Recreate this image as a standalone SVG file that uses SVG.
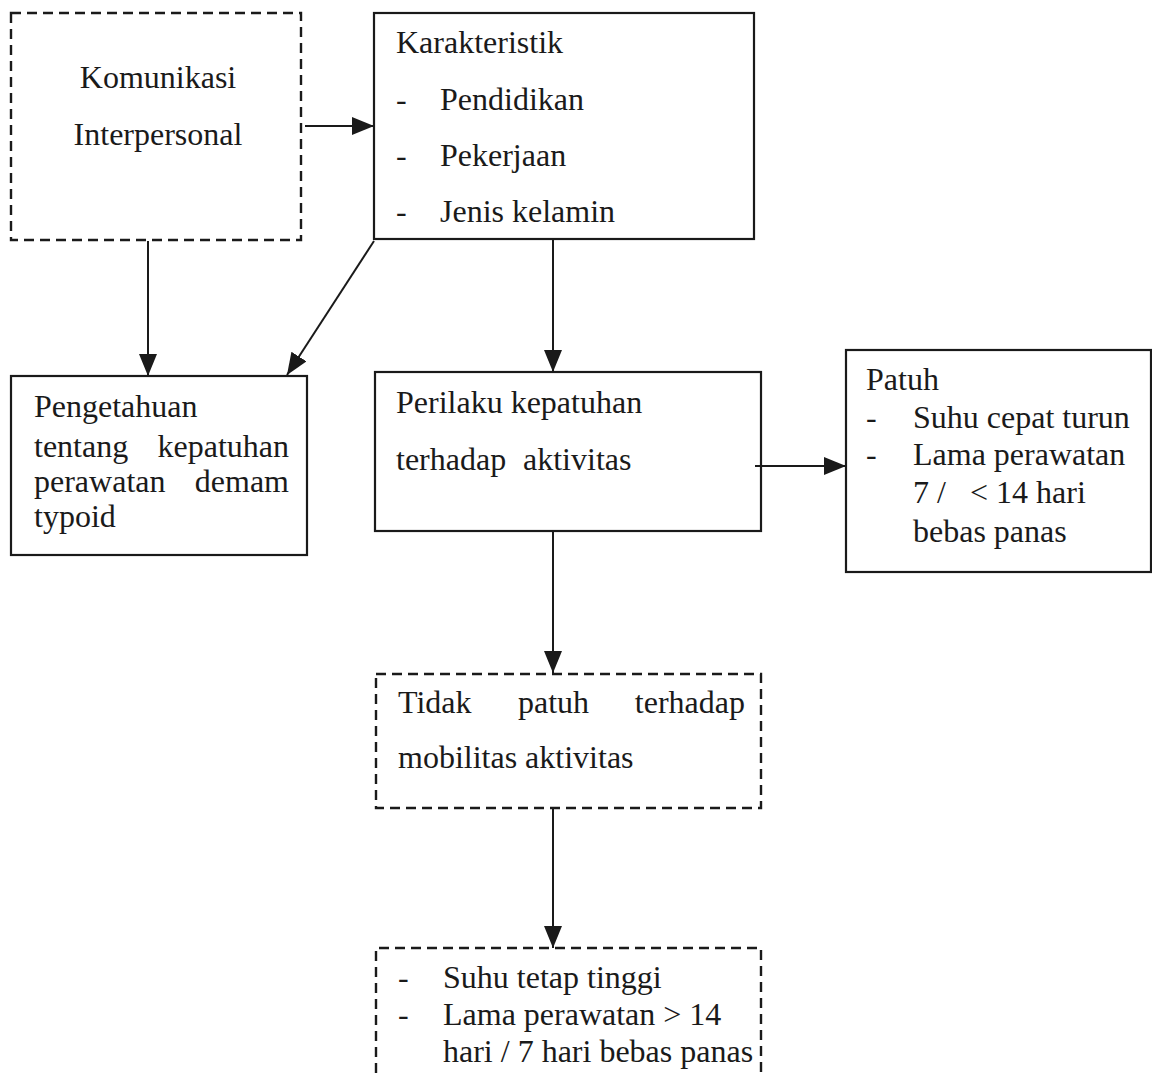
<svg xmlns="http://www.w3.org/2000/svg" width="1152" height="1073" viewBox="0 0 1152 1073">
<style>
text{font-family:"Liberation Serif","Times New Roman",serif;font-size:32px;fill:#1a1a1a}
.box{fill:none;stroke:#1a1a1a;stroke-width:2.2}
.dash{fill:none;stroke:#1a1a1a;stroke-width:2.4;stroke-dasharray:10 6}
.con{fill:none;stroke:#1a1a1a;stroke-width:2;marker-end:url(#ah)}
</style>
<defs>
<marker id="ah" markerUnits="userSpaceOnUse" markerWidth="24" markerHeight="20" refX="22" refY="9" orient="auto">
<path d="M0,0 L22,9 L0,18 Z" fill="#1a1a1a"/>
</marker>
</defs>
<rect width="1152" height="1073" fill="#fff"/>
<g id="connectors">
<line class="con" x1="305" y1="126" x2="374" y2="126"/>
<line class="con" x1="148" y1="241" x2="148" y2="376"/>
<line class="con" x1="374" y1="241" x2="287" y2="375"/>
<line class="con" x1="553" y1="240" x2="553" y2="372"/>
<line class="con" x1="755" y1="466" x2="846" y2="466"/>
<line class="con" x1="553" y1="531" x2="553" y2="673"/>
<line class="con" x1="553" y1="809" x2="553" y2="948"/>
</g>
<g id="komunikasi">
<rect class="dash" x="11" y="13" width="290" height="227"/>
<text x="158" y="88" text-anchor="middle">Komunikasi</text>
<text x="158" y="145" text-anchor="middle">Interpersonal</text>
</g>
<g id="karakteristik">
<rect class="box" x="374" y="13" width="380" height="226"/>
<text x="396" y="53">Karakteristik</text>
<text x="396" y="110">-</text><text x="440" y="110">Pendidikan</text>
<text x="396" y="166">-</text><text x="440" y="166">Pekerjaan</text>
<text x="396" y="222">-</text><text x="440" y="222">Jenis kelamin</text>
</g>
<g id="pengetahuan">
<rect class="box" x="11" y="376" width="296" height="179"/>
<text x="34" y="417">Pengetahuan</text>
<text x="34" y="457">tentang</text><text x="289" y="457" text-anchor="end">kepatuhan</text>
<text x="34" y="492">perawatan</text><text x="289" y="492" text-anchor="end">demam</text>
<text x="34" y="527">typoid</text>
</g>
<g id="perilaku">
<rect class="box" x="375" y="372" width="386" height="159"/>
<text x="396" y="413">Perilaku kepatuhan</text>
<text x="396" y="470">terhadap</text><text x="523" y="470">aktivitas</text>
</g>
<g id="patuh">
<rect class="box" x="846" y="350" width="305" height="222"/>
<text x="866" y="390">Patuh</text>
<text x="866" y="428">-</text><text x="913" y="428">Suhu cepat turun</text>
<text x="866" y="465">-</text><text x="913" y="465">Lama perawatan</text>
<text x="913" y="503">7 /</text><text x="970" y="503">&lt; 14 hari</text>
<text x="913" y="542">bebas panas</text>
</g>
<g id="tidak-patuh">
<rect class="dash" x="376" y="674" width="385" height="134"/>
<text x="398" y="713">Tidak</text><text x="518" y="713">patuh</text><text x="745" y="713" text-anchor="end">terhadap</text>
<text x="398" y="768">mobilitas aktivitas</text>
</g>
<g id="hasil">
<path class="dash" d="M376,1073 L376,948 L761,948 L761,1073"/>
<text x="398" y="988">-</text><text x="443" y="988">Suhu tetap tinggi</text>
<text x="398" y="1025">-</text><text x="443" y="1025">Lama perawatan &gt; 14</text>
<text x="443" y="1062">hari / 7 hari bebas panas</text>
</g>
</svg>
